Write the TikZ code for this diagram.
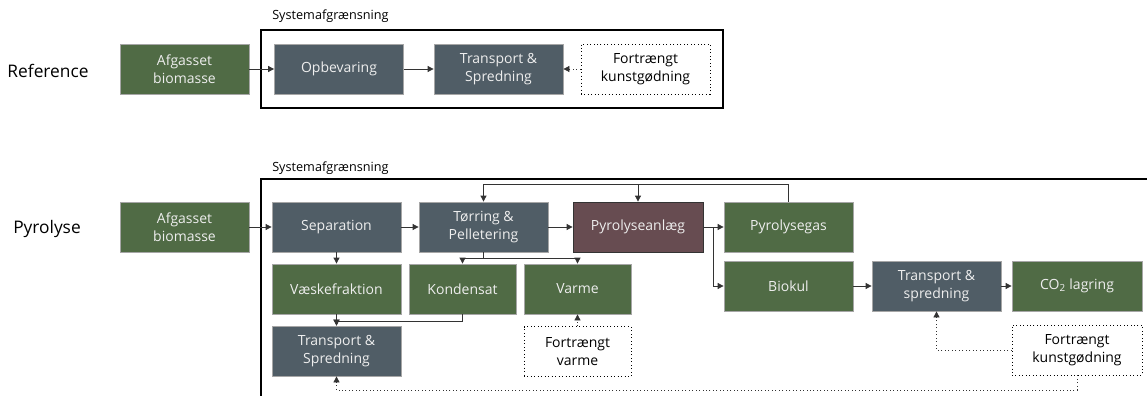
\documentclass[tikz,border=0pt]{standalone}
\usepackage{fontspec}
\setmainfont{Open Sans}
\usetikzlibrary{arrows.meta}
\definecolor{cgreen}{HTML}{506B45}
\definecolor{cslate}{HTML}{505D66}
\definecolor{cmaroon}{HTML}{674C51}
\definecolor{ctext}{HTML}{EEEEEE}
\tikzset{
  base/.style={minimum width=96.75pt, minimum height=37.5pt, inner sep=1pt, align=center,
    font=\fontsize{10.5}{13.5}\selectfont, line width=0.6pt},
  gbox/.style={base, fill=cgreen, draw=gray!70, text=ctext},
  sbox/.style={base, fill=cslate, draw=gray!70, text=ctext},
  mbox/.style={base, fill=cmaroon, draw=black!80, text=ctext},
  dbox/.style={base, fill=white, draw=black, dotted, text=black},
  narrow/.style={minimum width=80.25pt},
  wide/.style={minimum width=97.5pt},
  arr/.style={draw=black!80, line width=0.6pt, -{Triangle[length=4.5pt,width=4.5pt]}},
  ln/.style={draw=black!80, line width=0.6pt},
  dotarr/.style={arr, dotted},
  sysbox/.style={draw=black, line width=0.8pt},
  syslabel/.style={font=\fontsize{9.5}{11}\selectfont, anchor=west, inner sep=0pt},
  rowlabel/.style={font=\fontsize{13}{15}\selectfont}
}
\begin{document}
\begin{tikzpicture}[x=0.75pt, y=-0.75pt]
\useasboundingbox (0,0) rectangle (1147,396);
% ---- Reference row ----
\node[rowlabel] (lref) at (48,71) {Reference};
\node[syslabel] (sl1) at (272,16) {Systemafgrænsning};
\draw[sysbox] (261,30) rectangle (723,108);
\node[gbox] (refA) at (184.5,69) {Afgasset\\biomasse};
\node[sbox] (opb) at (339,69) {Opbevaring};
\node[sbox] (tsp1) at (498.5,69) {Transport \&\\Spredning};
\node[dbox] (fk1) at (645.5,69) {Fortrængt\\kunstgødning};
\draw[arr] (refA) -- (opb);
\draw[arr] (opb) -- (tsp1);
\draw[dotarr] (fk1) -- (tsp1);
% ---- Pyrolyse row ----
\node[rowlabel] (lpyr) at (47,229) {Pyrolyse};
\node[syslabel] (sl2) at (272,168) {Systemafgrænsning};
\draw[sysbox] (261,396) -- (261,179) -- (1147,179);
\node[gbox] (pyA) at (184.5,227) {Afgasset\\biomasse};
\node[sbox] (sep) at (336.5,227) {Separation};
\node[sbox] (tor) at (483.5,227) {Tørring \&\\Pelletering};
\node[mbox, wide] (pyr) at (638,227) {Pyrolyseanlæg};
\node[gbox] (gas) at (788.5,227) {Pyrolysegas};
\node[gbox] (bio) at (788.5,286) {Biokul};
\node[sbox] (tsp3) at (936.5,286) {Transport \&\\spredning};
\node[gbox, wide] (co2) at (1077,286) {CO\textsubscript{2} lagring};
\node[dbox, wide] (fk2) at (1077,350) {Fortrængt\\kunstgødning};
\node[gbox] (vae) at (336.5,289) {Væskefraktion};
\node[gbox, narrow] (kon) at (462.5,289) {Kondensat};
\node[gbox, narrow] (var) at (577.5,289) {Varme};
\node[dbox, narrow] (fv) at (577.5,351.5) {Fortrængt\\varme};
\node[sbox] (tsp2) at (336.5,351) {Transport \&\\Spredning};
% connectors
\coordinate (fb) at (638,185);
\coordinate (tj) at (483.5,258);
\coordinate (kj) at (336.5,321);
\coordinate (dj) at (336.5,390);
\draw[arr] (pyA) -- (sep);
\draw[arr] (sep) -- (tor);
\draw[arr] (tor) -- (pyr);
\draw[arr] (pyr) -- (gas);
\draw[arr] (pyr.east) -- ++(10,0) |- (bio.west);
\draw[arr] (gas.north) -- ++(0,-17) -| (tor.north);
\draw[arr] (fb) -- (pyr.north);
\draw[ln] (tor.south) -- (tj);
\draw[arr] (tj) -| (kon.north);
\draw[arr] (tj) -| (var.north);
\draw[arr] (sep) -- (vae);
\draw[arr] (vae) -- (tsp2);
\draw[arr] (kon.south) |- (kj) -- (tsp2.north);
\draw[dotarr] (fv) -- (var);
\draw[arr] (bio) -- (tsp3);
\draw[arr] (tsp3) -- (co2);
\draw[dotarr] (fk2.west) -| (tsp3.south);
\draw[dotarr] (fk2.south) |- (dj) -- (tsp2.south);
\end{tikzpicture}
\end{document}
